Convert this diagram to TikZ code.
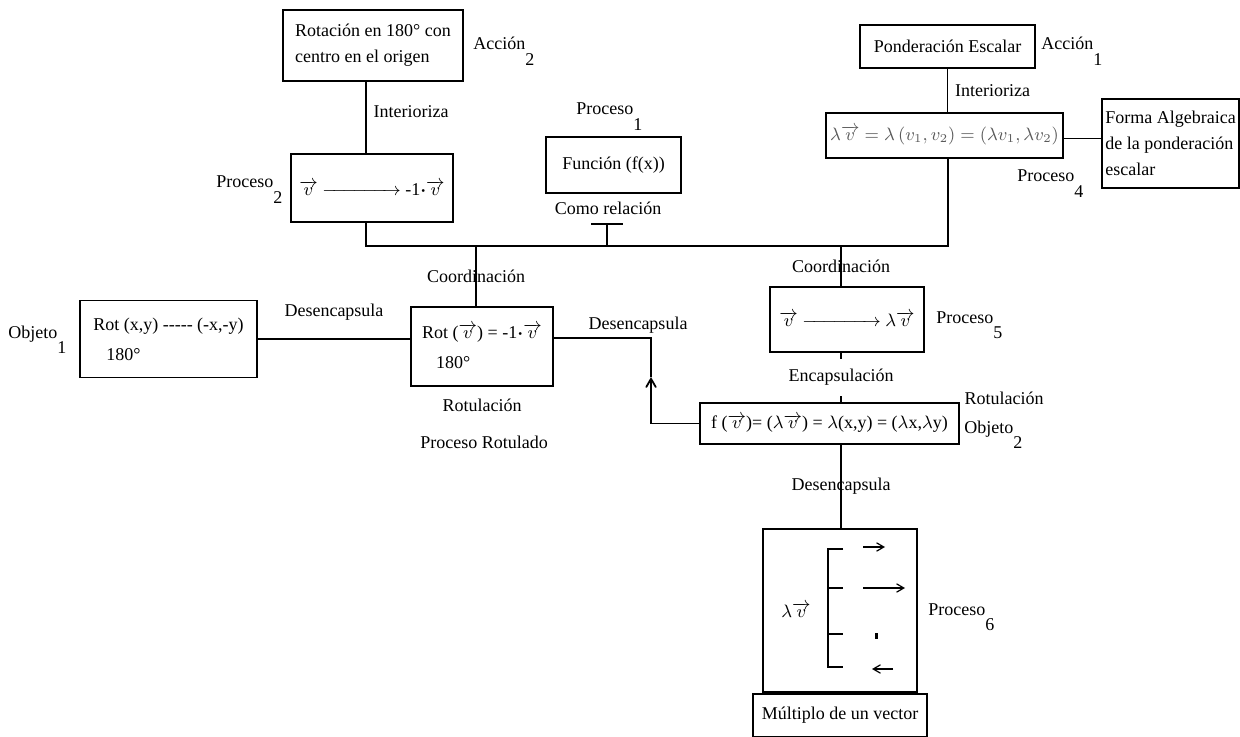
\documentclass[tikz,border=0pt]{standalone}
\usepackage{fontspec}
\setmainfont{Liberation Serif}
\usepackage{amsmath}
\usepackage{tikz}
\usetikzlibrary{shapes,arrows,positioning}
\newcommand{\lowsub}[1]{\raisebox{-0.85em}{#1}}

\begin{document}
\begin{tikzpicture}[x=0.5pt, y=-0.5pt, >=angle 60, font=\fontsize{9}{13}\selectfont]
    \tikzstyle{block} = [rectangle, draw, line width=0.9pt, inner sep=2pt, align=left]
    \tikzstyle{line} = [draw, line width=0.9pt]
    \tikzstyle{tag} = [inner sep=0pt, anchor=base west]
    \useasboundingbox (0,0) rectangle (1240,737);

    % cajas de arriba
    \node [block, minimum width=90pt, minimum height=35.5pt] (rotacion) at (373,45.5) {Rotación en 180° con\\centro en el origen};
    \node [block, align=center, minimum width=81pt, minimum height=34pt] (proc2) at (372,188) {$\overrightarrow{v}$\ $\xrightarrow{\hspace{3.7em}}$\ -1$\boldsymbol{\cdot}\overrightarrow{v}$};
    \node [block, align=center, minimum width=67.5pt, minimum height=28pt] (funcion) at (613.5,165) {Función (f(x))};
    \node [block, align=center, minimum width=87.5pt, minimum height=21.5pt] (ponderacion) at (947.5,46.5) {Ponderación Escalar};
    \node [block, align=center, minimum width=114.5pt, minimum height=22.5pt, text=black!65] (proc4) at (944.5,135.5) {$\lambda\overrightarrow{v} = \lambda\,(v_1,v_2) = (\lambda v_1,\lambda v_2)$};
    \node [block, inner xsep=1.5pt, minimum width=68pt, minimum height=44.5pt] (forma) at (1170.5,143.5) {Forma Algebraica\\de la ponderación\\escalar};

    % cajas del centro
    \node [block, inner xsep=1.5pt, minimum width=88.5pt, minimum height=38.5pt] (obj1) at (168.5,339) {Rot (x,y) -{}-{}-{}-{}- (-x,-y)\\[2pt]\hspace*{6.5pt}180°};
    \node [block, minimum width=71pt, minimum height=39.5pt] (rot) at (482,346.5) {Rot ($\overrightarrow{v}$) = -1$\boldsymbol{\cdot}\overrightarrow{v}$\\[2pt]\hspace*{7pt}180°};
    \node [block, align=center, minimum width=77pt, minimum height=32.5pt] (proc5) at (847,319.5) {$\overrightarrow{v}$\ $\xrightarrow{\hspace{3.7em}}$ $\lambda\overrightarrow{v}$};
    \node [block, align=center, minimum width=129.5pt, minimum height=20.5pt] (fbox) at (829.5,423.5) {f ($\overrightarrow{v}$)= ($\lambda\overrightarrow{v}$) = $\lambda$(x,y) = ($\lambda$x,$\lambda$y)};
    \node [block, minimum width=77pt, minimum height=81.5pt] (proc6) at (840,610.5) {};
    \node [block, align=center, below=0pt of proc6, minimum width=87pt, minimum height=21.5pt] (multiplo) {Múltiplo de un vector};

    % etiquetas
    \node [tag] (acc2) at (473,50) {Acción\lowsub{2}};
    \node [tag] (tp2) at (216,188) {Proceso\lowsub{2}};
    \node [tag] (tp1) at (576,115) {Proceso\lowsub{1}};
    \node (rel) at (608,208) {Como relación};
    \node [tag] (acc1) at (1041,50) {Acción\lowsub{1}};
    \node [tag] (tp4) at (1017,182) {Proceso\lowsub{4}};
    \node [tag] (tobj1) at (8,338) {Objeto\lowsub{1}};
    \node [tag] (tp5) at (936,323) {Proceso\lowsub{5}};
    \node [tag] (tobj2) at (964,433) {Objeto\lowsub{2}};
    \node [tag] (tp6) at (928,615) {Proceso\lowsub{6}};
    \node (rotul) at (482,405) {Rotulación};
    \node (prot) at (484,442) {Proceso Rotulado};
    \node (rotul2) at (1004,398) {Rotulación};
    \node (desen) at (638,325) {Desencapsula};

    % conexiones
    \coordinate (jA) at (366,246);
    \coordinate (jB) at (948,246);
    \coordinate (jC) at (476,246);
    \coordinate (jD) at (841,246);
    \coordinate (tbar) at (607,224);
    \coordinate (giro) at (651,377);

    \path [line] (rotacion.south -| jA) -- node[pos=.42,right] {Interioriza} (proc2.north -| jA);
    \path [line] (proc2.south -| jA) -- (jA) -- (jB) -- (proc4.south -| jB);
    \path [line] ([xshift=-8pt]tbar) -- ([xshift=8pt]tbar);
    \path [line] (tbar) -- (tbar |- jA);
    \path [line] (ponderacion.south) -- node[midway,right] {Interioriza} (ponderacion.south |- proc4.north);
    \path [line] ([yshift=-1.5pt]proc4.east) -- ([yshift=-1.5pt]proc4.east -| forma.west);
    \path [line] (jC) -- node[midway] {Coordinación} (jC |- rot.north);
    \path [line] (jD) -- node[midway] {Coordinación} (jD |- proc5.north);
    \path [line] (obj1.east) -- node[midway, yshift=13.5pt] {Desencapsula} (obj1.east -| rot.west);
    \path [line, ->] (fbox.west) -| (giro);
    \path [line] (giro) |- ([yshift=4.25pt]rot.east);
    \path [line] (proc5.south -| jD) -- node[midway, fill=white, inner ysep=5pt] {Encapsulación} (fbox.north -| jD);
    \path [line] (fbox.south -| jD) -- node[midway] {Desencapsula} (proc6.north -| jD);

    % dentro de Proceso 6
    \node (lamv) at (796,610) {$\lambda\overrightarrow{v}$};
    \path [line] (843,549) -- (828,549) -- (828,667) -- (843,667);
    \path [line] (828,588) -- (843,588);
    \path [line] (828,634) -- (843,634);
    \draw [->, line width=0.6pt] (863,547) -- (885,547);
    \draw [->, line width=0.6pt] (863,588) -- (905,588);
    \fill (875,633) rectangle (878,639);
    \draw [->, line width=0.6pt] (893,669) -- (872,669);
\end{tikzpicture}
\end{document}
